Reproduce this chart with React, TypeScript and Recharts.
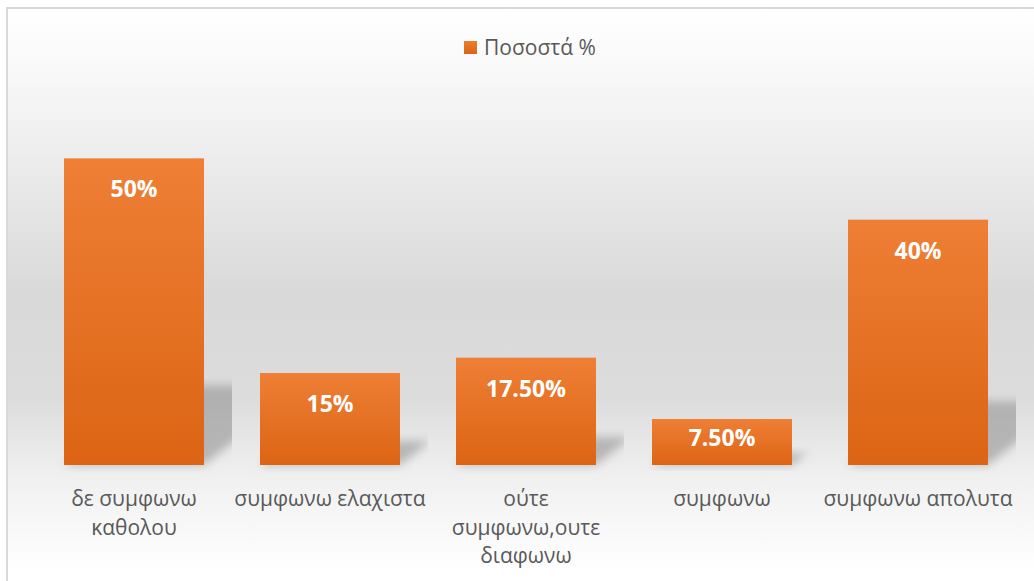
import React from "react";
import { BarChart, Bar, XAxis, YAxis, Legend, LabelList } from "recharts";

// Values (percent of respondents)
const categories = [
  "δε συμφωνω καθολου",
  "συμφωνω ελαχιστα",
  "ούτε συμφωνω,ουτε διαφωνω",
  "συμφωνω",
  "συμφωνω απολυτα",
];
const percentages = [50, 15, 17.5, 7.5, 40];
const seriesName = "Ποσοστά %";

const data = categories.map((name, i) => ({ name, value: percentages[i] }));

const TEXT_COLOR = "#595959";
const FONT = "'Open Sans', 'DejaVu Sans', sans-serif";
const TICK_SIZE = 21;

// Excel style: whole numbers without decimals, others with two
const formatPct = (v: number) => (Number.isInteger(v) ? `${v}%` : `${v.toFixed(2)}%`);

let ctx: CanvasRenderingContext2D | null = null;
function measure(s: string) {
  if (!ctx) ctx = document.createElement("canvas").getContext("2d");
  if (!ctx) return s.length * 12;
  ctx.font = `${TICK_SIZE}px ${FONT}`;
  return ctx.measureText(s).width;
}

function wrap(text: string, maxWidth: number) {
  const words = text.split(" ");
  const lines: string[] = [];
  let cur = "";
  for (const w of words) {
    const next = cur ? `${cur} ${w}` : w;
    if (cur && measure(next) > maxWidth) {
      lines.push(cur);
      cur = w;
    } else cur = next;
  }
  if (cur) lines.push(cur);
  return lines;
}

const CategoryTick = (props: any) => {
  const { x, y, payload } = props;
  const lines = wrap(payload.value, 194);
  return (
    <text x={x} y={y} textAnchor="middle" fill={TEXT_COLOR} fontSize={TICK_SIZE} fontFamily={FONT}>
      {lines.map((l, i) => (
        <tspan key={i} x={x} dy={i === 0 ? 33 : 28.5}>
          {l}
        </tspan>
      ))}
    </text>
  );
};

// bar with a perspective shadow thrown to the right on the "floor"
const ShadowBar = (props: any) => {
  const { x, y, width, height, index } = props;
  if (!height || height <= 0) return null;
  const bottom = y + height;
  const rise = height * 0.26;
  const shift = height * 0.33;
  const gap = width * 0.2;
  const pts = [
    [x, bottom],
    [x + width, bottom],
    [x + width + shift, bottom - rise],
    [x + shift, bottom - rise],
  ]
    .map((p) => p.join(","))
    .join(" ");
  return (
    <g>
      <defs>
        <clipPath id={`band-clip-${index}`}>
          <rect x={x - gap} y={y - 20} width={width + gap * 2} height={height + 30} />
        </clipPath>
      </defs>
      <g clipPath={`url(#band-clip-${index})`}>
        <polygon points={pts} fill="#9a9a9a" opacity={0.65} filter="url(#shadowBlur)" />
      </g>
      <rect x={x} y={y} width={width} height={height} fill="url(#barFill)" />
    </g>
  );
};

const BarValueLabel = (props: any) => {
  const { x, y, width, height, value } = props;
  // inside-end label, kept inside short bars
  const cy = Math.min(y + 30, y + height - 28);
  return (
    <text
      x={x + width / 2}
      y={cy}
      textAnchor="middle"
      dominantBaseline="central"
      fill="#ffffff"
      fontSize={23}
      fontWeight="bold"
      fontFamily={FONT}
    >
      {formatPct(value)}
    </text>
  );
};

const LegendContent = () => (
  <div
    style={{
      display: "flex",
      alignItems: "center",
      justifyContent: "center",
      height: 24,
      fontFamily: FONT,
      fontSize: 21,
      color: TEXT_COLOR,
      paddingLeft: 8,
    }}
  >
    <span
      style={{
        display: "inline-block",
        width: 13,
        height: 13,
        background: "linear-gradient(#ed7d31, #dc6414)",
        marginRight: 7,
      }}
    />
    {seriesName}
  </div>
);

export default function App() {
  return (
    <div
      style={{
        position: "absolute",
        left: 6,
        top: 7,
        width: 1026,
        height: 572,
        borderLeft: "2px solid #d9d9d9",
        borderTop: "2px solid #d9d9d9",
        background:
          "linear-gradient(to bottom, #ffffff 0%, #fafafa 9%, #efefef 23%, #d9d9d9 50%, #dcdcdc 68%, #efefef 81%, #fefefe 97%, #ffffff 100%)",
      }}
    >
      <BarChart
        width={1026}
        height={572}
        data={data}
        margin={{ top: 64, right: 18, bottom: 0, left: 28 }}
      >
        <defs>
          <linearGradient id="barFill" x1="0" y1="0" x2="0" y2="1">
            <stop offset="0%" stopColor="#ee7f35" />
            <stop offset="100%" stopColor="#dc6414" />
          </linearGradient>
          <filter id="shadowBlur" x="-20%" y="-50%" width="140%" height="200%">
            <feGaussianBlur stdDeviation="5" />
          </filter>
        </defs>
        <Legend
          verticalAlign="top"
          height={24}
          content={<LegendContent />}
          wrapperStyle={{ top: 26 }}
        />
        <XAxis
          dataKey="name"
          axisLine={false}
          tickLine={false}
          interval={0}
          height={116}
          tick={<CategoryTick />}
        />
        <YAxis hide domain={[0, 60]} />
        <Bar
          dataKey="value"
          name={seriesName}
          barSize={140}
          shape={<ShadowBar />}
          isAnimationActive={false}
        >
          <LabelList dataKey="value" content={<BarValueLabel />} />
        </Bar>
      </BarChart>
    </div>
  );
}
